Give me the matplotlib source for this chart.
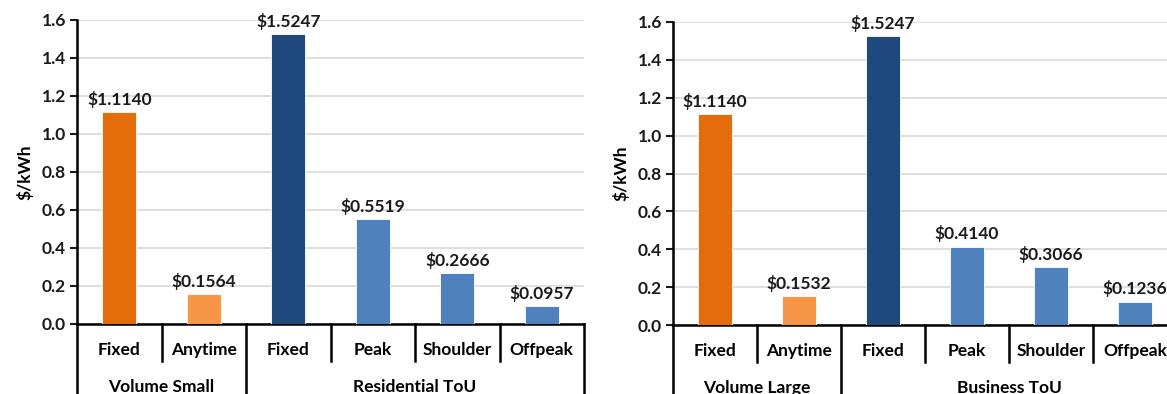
import matplotlib
matplotlib.use("Agg")
import matplotlib.pyplot as plt

# tariff rates, $/kWh
cats = ["Fixed", "Anytime", "Fixed", "Peak", "Shoulder", "Offpeak"]
small_groups = ["Volume Small", "Residential ToU"]
large_groups = ["Volume Large", "Business ToU"]
group_sizes = [2, 4]
small_rates = [1.1140, 0.1564, 1.5247, 0.5519, 0.2666, 0.0957]
large_rates = [1.1140, 0.1532, 1.5247, 0.4140, 0.3066, 0.1236]
bar_colors = ["#E46C0A", "#F79646", "#1F497D", "#4F81BD", "#4F81BD", "#4F81BD"]

plt.rcParams["font.family"] = ["Lato", "DejaVu Sans"]
plt.rcParams["font.weight"] = "bold"

W, H = 1167, 394
fig = plt.figure(figsize=(W / 100, H / 100), dpi=100)


def panel(rect_px, rates, groups):
    x0, top, w, bottom = rect_px
    ax = fig.add_axes([x0 / W, (H - bottom) / H, w / W, (bottom - top) / H])
    h_px = bottom - top
    xs = list(range(len(rates)))
    ax.bar(xs, rates, width=0.4, color=bar_colors, edgecolor="white", linewidth=0.6, zorder=3)
    for x, v in zip(xs, rates):
        ax.annotate(f"${v:.4f}", (x, v), xytext=(0, 3), textcoords="offset points",
                    ha="center", va="bottom", fontsize=12.5, fontweight="bold", color="#1a1a1a")
    ax.set_xlim(-0.5, len(rates) - 0.5)
    ax.set_ylim(0, 1.6)
    ax.set_yticks([0, 0.2, 0.4, 0.6, 0.8, 1.0, 1.2, 1.4, 1.6])
    ax.set_yticklabels([f"{t:.1f}" for t in ax.get_yticks()], fontsize=12.5, fontweight="bold")
    ax.tick_params(axis="y", length=5, width=1.5, pad=3, colors="#1a1a1a")
    ax.set_xticks([])
    ax.grid(axis="y", color="#d9d9d9", linewidth=1.2, zorder=0)
    for s in ["top", "right"]:
        ax.spines[s].set_visible(False)
    ax.spines["left"].set_linewidth(1.8)
    ax.spines["bottom"].set_linewidth(1.8)
    ax.set_ylabel("$/kWh", fontsize=12.5, fontweight="bold", labelpad=6)

    # two-level category axis
    tr = ax.get_xaxis_transform()
    def fy(px):
        return -px / h_px
    for x, c in zip(xs, cats):
        ax.text(x, fy(26), c, transform=tr, ha="center", va="center", fontsize=12.5, fontweight="bold")
    edges = [-0.5]
    for n in group_sizes:
        edges.append(edges[-1] + n)
    for b in range(len(rates) + 1):
        e = b - 0.5
        low = fy(80) if e in edges else fy(37)
        ax.plot([e, e], [0, low], transform=tr, color="black", linewidth=1.8, clip_on=False)
    for g, a, b in zip(groups, edges[:-1], edges[1:]):
        ax.text((a + b) / 2, fy(63), g, transform=tr, ha="center", va="center", fontsize=12.5, fontweight="bold")
    return ax


panel((77, 20, 507, 324), small_rates, small_groups)
panel((673, 22, 504, 325), large_rates, large_groups)

fig.savefig("out.png", dpi=100)
